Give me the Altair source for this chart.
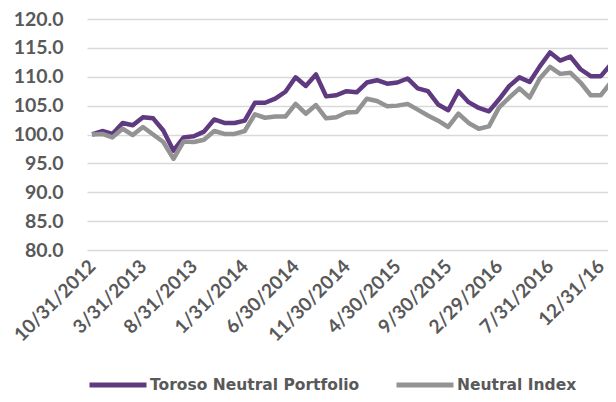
import json
import altair as alt
import pandas as pd

SERIES = ["Toroso Neutral Portfolio", "Neutral Index"]
COLORS = ["#5F3A80", "#939393"]

# month-end dates, one per point (10/31/2012 onward)
DATES = [(pd.Timestamp("2012-10-31") + pd.offsets.MonthEnd(i)).strftime("%m/%d/%Y") for i in range(52)]

PORTFOLIO = [100.0, 100.6, 100.1, 102.0, 101.6, 103.0, 102.8, 100.7, 97.2, 99.5,
             99.7, 100.5, 102.6, 102.0, 102.0, 102.4, 105.5, 105.5, 106.2, 107.4,
             109.9, 108.4, 110.4, 106.6, 106.8, 107.5, 107.3, 109.0, 109.4, 108.8,
             109.0, 109.7, 108.0, 107.5, 105.2, 104.2, 107.5, 105.6, 104.6, 104.0,
             106.1, 108.4, 109.9, 109.1, 111.8, 114.2, 112.8, 113.5, 111.3, 110.1,
             110.1, 112.2]
INDEX = [100.0, 100.1, 99.5, 101.0, 99.9, 101.3, 100.0, 98.7, 95.8, 98.8,
         98.7, 99.1, 100.6, 100.1, 100.1, 100.6, 103.5, 102.9, 103.1, 103.1,
         105.3, 103.6, 105.1, 102.8, 103.0, 103.8, 103.9, 106.2, 105.8, 104.9,
         105.0, 105.3, 104.3, 103.3, 102.4, 101.3, 103.6, 102.0, 101.0, 101.4,
         104.7, 106.4, 108.0, 106.4, 109.7, 111.7, 110.5, 110.7, 109.0, 106.8,
         106.8, 109.1]

TICK_POS = [0, 5, 10, 15, 20, 25, 30, 35, 40, 45, 50]
TICK_LABELS = ["10/31/2012", "3/31/2013", "8/31/2013", "1/31/2014", "6/30/2014",
               "11/30/2014", "4/30/2015", "9/30/2015", "2/29/2016", "7/31/2016", "12/31/16"]
Y_TICKS = [80, 85, 90, 95, 100, 105, 110, 115, 120]

rows = []
for s, vals in zip(SERIES, [PORTFOLIO, INDEX]):
    for i, v in enumerate(vals):
        rows.append({"idx": i, "date": DATES[i], "series": s, "value": v})
df = pd.DataFrame(rows)

label_expr = json.dumps(TICK_LABELS) + "[round(datum.value/5)]"

x = alt.X("idx:Q",
          scale=alt.Scale(domain=[-0.5, 50.7], nice=False, zero=False),
          axis=alt.Axis(values=TICK_POS, labelExpr=label_expr, labelAngle=-45,
                        labelAlign="right", labelBaseline="middle",
                        labelFont="Lato", labelFontSize=19, labelFontWeight="bold",
                        labelColor="#595959", ticks=False, domain=False, grid=False,
                        labelPadding=13, labelOverlap=False, labelFlush=False,
                        labelBound=False, title=None))
y = alt.Y("value:Q",
          scale=alt.Scale(domain=[80, 120], nice=False, zero=False),
          axis=alt.Axis(values=Y_TICKS, format=".1f", labelFont="Lato",
                        labelFontSize=19.5, labelFontWeight="bold", labelColor="#595959",
                        ticks=False, domain=False, gridColor="#D9D9D9", gridWidth=1.5,
                        labelPadding=24, title=None))
color = alt.Color("series:N",
                  scale=alt.Scale(domain=SERIES, range=COLORS),
                  legend=alt.Legend(orient="none", legendX=0, legendY=335,
                                    direction="horizontal", symbolType="stroke",
                                    symbolSize=3249, symbolStrokeWidth=5,
                                    labelFont="DejaVu Sans", labelFontSize=15.5,
                                    labelFontWeight="bold", labelColor="#595959",
                                    columnPadding=26, labelOffset=1, labelLimit=400,
                                    title=None))

base = alt.Chart(df)
lines = [
    base.transform_filter(alt.datum.series == s)
        .mark_line(strokeWidth=4.5, clip=True, strokeJoin="round")
        .encode(x=x, y=y, color=color)
    for s in SERIES
]

chart = alt.layer(*lines).properties(
    width=521, height=231,
    padding={"left": 79, "top": 11, "right": 0, "bottom": 144},
    autosize=alt.AutoSizeParams(type="none"),
).configure_view(stroke=None)

chart.save("out.html", embed_options={"renderer": "svg", "actions": False})
